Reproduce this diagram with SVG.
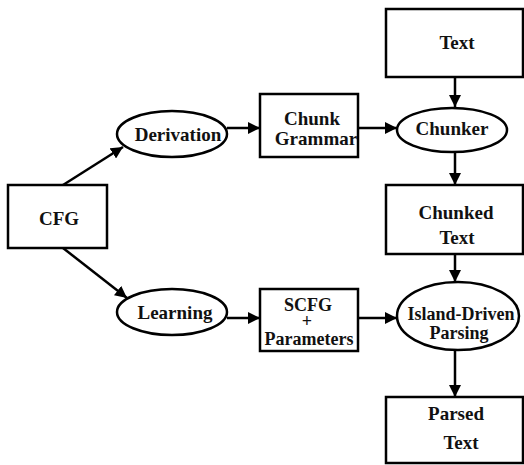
<svg xmlns="http://www.w3.org/2000/svg" width="524" height="465" viewBox="0 0 524 465">
<defs>
<marker id="ah" markerWidth="12" markerHeight="12" refX="12" refY="6" orient="auto" markerUnits="userSpaceOnUse">
<path d="M0,0 L12,6 L0,12 Z" fill="#000"/>
</marker>
<style>
.n{fill:#fff;stroke:#000;stroke-width:2.5}
.t{font-family:'Liberation Serif','Times New Roman',serif;font-weight:bold;font-size:19px;fill:#111;text-anchor:middle}
.s{font-size:18px}
.c{stroke:#000;stroke-width:2.5;fill:none;marker-end:url(#ah)}
</style>
</defs>
<rect width="524" height="465" fill="#fff"/>
<g id="connectors">
<line class="c" x1="63" y1="185" x2="123" y2="147"/>
<line class="c" x1="63" y1="248" x2="127" y2="298"/>
<line class="c" x1="227" y1="128" x2="260" y2="128"/>
<line class="c" x1="227" y1="318" x2="260" y2="318"/>
<line class="c" x1="358" y1="128" x2="397" y2="128"/>
<line class="c" x1="358" y1="318" x2="397" y2="318"/>
<line class="c" x1="455" y1="77" x2="455" y2="107"/>
<line class="c" x1="455" y1="152" x2="455" y2="185"/>
<line class="c" x1="455" y1="254" x2="455" y2="282"/>
<line class="c" x1="455" y1="351" x2="455" y2="397"/>
</g>
<g id="cfg"><rect class="n" x="8" y="185" width="99" height="63"/><text class="t" x="59" y="225">CFG</text></g>
<g id="derivation"><ellipse class="n" cx="172" cy="134" rx="55" ry="23"/><text class="t" x="178" y="141">Derivation</text></g>
<g id="learning"><ellipse class="n" cx="172" cy="312" rx="55" ry="23"/><text class="t" x="175" y="319">Learning</text></g>
<g id="chunk-grammar"><rect class="n" x="260" y="94" width="98" height="63"/><text class="t" x="312" y="125">Chunk</text><text class="t" x="316" y="145">Grammar</text></g>
<g id="scfg"><rect class="n" x="260" y="289" width="98" height="62"/><text class="t s" x="308" y="311">SCFG</text><text class="t s" x="307" y="327">+</text><text class="t s" x="309" y="345">Parameters</text></g>
<g id="text"><rect class="n" x="386" y="9" width="137" height="68"/><text class="t" x="457" y="49">Text</text></g>
<g id="chunker"><ellipse class="n" cx="452" cy="130" rx="55" ry="22"/><text class="t" x="452" y="135">Chunker</text></g>
<g id="chunked-text"><rect class="n" x="386" y="185" width="137" height="69"/><text class="t" x="456" y="219">Chunked</text><text class="t" x="457" y="244">Text</text></g>
<g id="island"><ellipse class="n" cx="458" cy="316" rx="61" ry="34"/><text class="t s" x="461" y="320">Island-Driven</text><text class="t s" x="459" y="339">Parsing</text></g>
<g id="parsed-text"><rect class="n" x="386" y="397" width="137" height="66"/><text class="t" x="456" y="420">Parsed</text><text class="t" x="461" y="449">Text</text></g>
</svg>
